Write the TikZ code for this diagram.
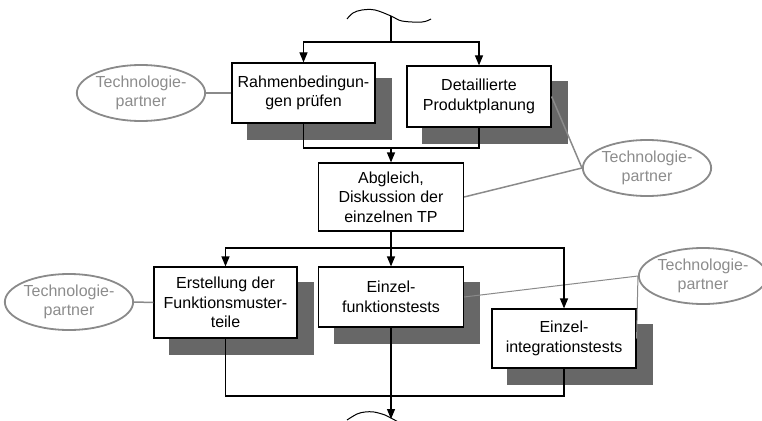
\documentclass[tikz,border=0pt]{standalone}
\usepackage{fontspec}
\setmainfont{Liberation Sans}
\usetikzlibrary{arrows.meta,shapes.geometric,backgrounds}
\definecolor{shadowc}{HTML}{676767}
\definecolor{partnerc}{HTML}{8A8A8A}
\definecolor{partnertext}{HTML}{8C8C8C}
\tikzset{
  procbox/.style={draw=black, line width=1.2pt, fill=white, rectangle, inner sep=0pt,
    align=center, font=\fontsize{16}{19.5}\selectfont},
  partner/.style={draw=partnerc, line width=1.8pt, ellipse, inner sep=0pt,
    minimum width=116pt, minimum height=56pt, align=center, text=partnertext,
    font=\fontsize{16}{19.5}\selectfont},
  flow/.style={draw=black, line width=1.2pt},
  arr/.style={flow, -{Triangle[length=10pt,width=8pt]}},
  plink/.style={draw=partnerc, line width=1.5pt},
  plinkthin/.style={draw=partnerc, line width=1pt},
  shadowbox/.style={fill=shadowc},
}
\begin{document}
\begin{tikzpicture}[x=1pt,y=-1pt]
\useasboundingbox (0,0) rectangle (762,420);
\clip (0,0) rectangle (762,420);

% process boxes
\node[procbox, minimum width=143pt, minimum height=60pt] (b1) at (303.5,93) {Rahmenbedingun-\\gen prüfen};
\node[procbox, minimum width=144pt, minimum height=61pt] (b2) at (479,96.5) {Detaillierte\\Produktplanung};
\node[procbox, minimum width=145pt, minimum height=68pt] (b3) at (391,197) {Abgleich,\\Diskussion der\\einzelnen TP};
\node[procbox, minimum width=143pt, minimum height=71pt] (b4) at (225.5,302.5) {Erstellung der\\Funktionsmuster-\\teile};
\node[procbox, minimum width=145pt, minimum height=60pt] (b5) at (391,297) {Einzel-\\funktionstests};
\node[procbox, minimum width=144pt, minimum height=59pt] (b6) at (564,338.5) {Einzel-\\integrationstests};

% shadows
\begin{pgfonlayer}{background}
\foreach \b in {b1,b2,b4,b5,b6}{
  \fill[shadowbox] ([shift={(16,16)}]\b.north west) rectangle ([shift={(16,16)}]\b.south east);
}
\end{pgfonlayer}

% technology partners
\node[partner] (t1) at (141,93) {Technologie-\\partner};
\node[partner] (t2) at (647,168) {Technologie-\\partner};
\node[partner] (t3) at (69,302) {Technologie-\\partner};
\node[partner, minimum width=108pt] (t4) at (703,276) {Technologie-\\partner};

\draw[plink] (t1.east) -- (b1.west);
\draw[plink] (b2.east) -- (t2.west);
\draw[plink] (b3.east) -- (t2.west);
\draw[plink] (t3.east) -- (b4.west);
\draw[plinkthin] (b5.east) -- (t4.west);
\draw[plinkthin] (b6.east) -- (t4.west);

% top break (wavy line)
\coordinate (w1) at (391,16);
\draw[flow, line width=1pt] plot[smooth, tension=0.6] coordinates {(347,19) (353,13) (362,10) (375,10) (391,16) (402,21) (422,22) (431,19)};
\coordinate (s1) at (391,42);
\draw[flow] (w1) -- (s1);
\draw[arr] (s1) -| (b1.north);
\draw[arr] (s1) -| (b2.north);

% join to Abgleich
\coordinate (m1) at (b3.north |- 0,148);
\draw[flow] (b1.south) |- (m1) -| (b2.south);
\draw[arr] (m1) -- (b3.north);

% split to tests
\coordinate (m2) at (b3.south |- 0,248);
\draw[flow] (b3.south) -- (m2);
\draw[arr] (m2) -| (b4.north);
\draw[arr] (m2) -- (b5.north);
\draw[arr] (m2) -| (b6.north);

% join at bottom
\coordinate (m3) at (b5.south |- 0,396);
\coordinate (w2) at (b5.south |- 0,419);
\draw[flow] (b4.south) |- (m3) -| (b6.south);
\draw[arr] (b5.south) -- (w2);
\draw[flow, line width=1pt] plot[smooth, tension=0.6] coordinates {(347,420) (357,414) (365,412) (374,412) (385,415) (391,418) (400,423)};
\end{tikzpicture}
\end{document}
